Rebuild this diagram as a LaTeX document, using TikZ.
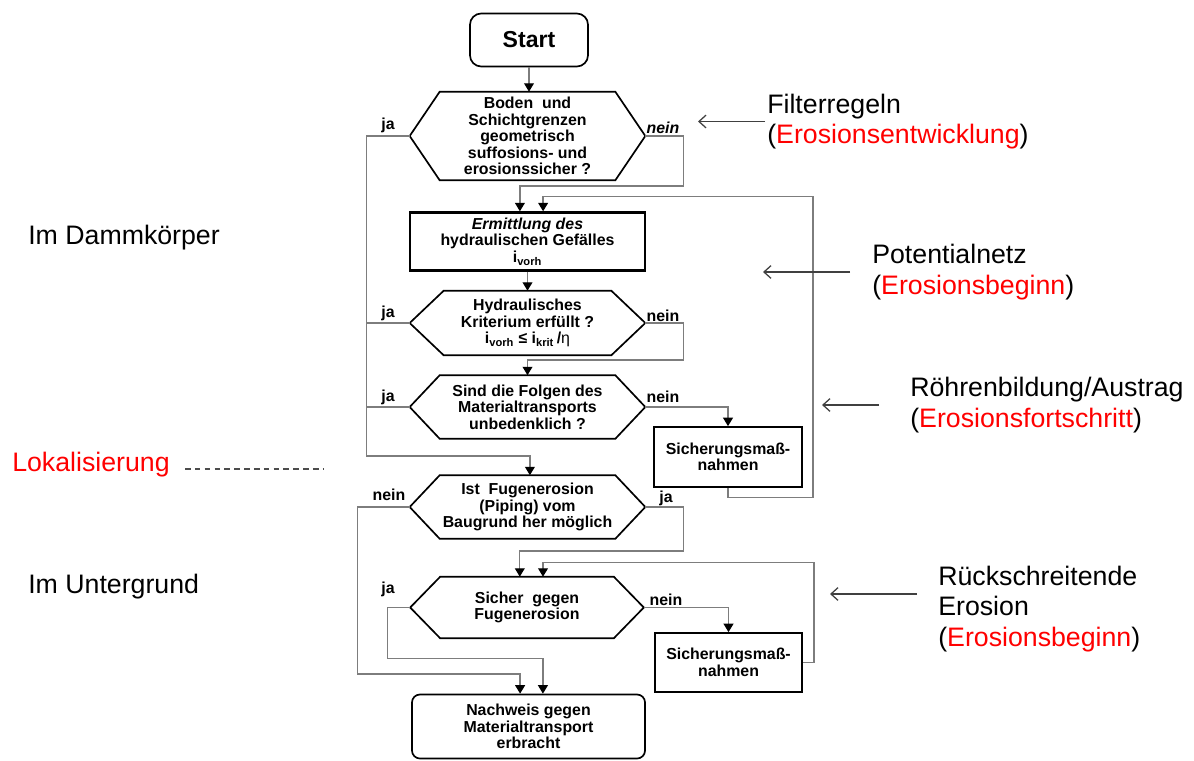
\documentclass[tikz,border=0pt]{standalone}
\usepackage{fontspec}
\setmainfont{Liberation Sans}
\usetikzlibrary{positioning,calc,arrows.meta}
\definecolor{linegray}{RGB}{125,125,125}
\definecolor{ered}{RGB}{255,0,0}
\newcommand*{\fs}{\bfseries\fontsize{11.3}{11.7}\selectfont}
\newcommand*{\er}[1]{(\textcolor{ered}{#1})}
% hexagon round a named node: \hexa{node}{depth}
\newcommand*{\hexa}[2]{\draw[line width=1.2pt] (#1.west) -- ([xshift=#2]#1.north west)
  -- ([xshift=-#2]#1.north east) -- (#1.east) -- ([xshift=-#2]#1.south east)
  -- ([xshift=#2]#1.south west) -- cycle;}
\tikzset{
  >={Triangle[width=7pt,length=6pt,color=black]},
  flow/.style={draw=linegray,line width=0.9pt,->},
  plain/.style={draw=linegray,line width=0.9pt},
  box/.style={draw,line width=1.2pt,align=center,inner sep=0pt,font=\fs},
  dec/.style={align=center,inner sep=0pt,minimum width=5.875cm,font=\fs},
  lbl/.style={font=\fs,inner sep=0pt},
  note/.style={align=left,anchor=west,inner sep=0pt,font=\fontsize{19}{21.6}\selectfont},
  hint/.style={draw=black!75,line width=0.9pt,-{Straight Barb[length=5pt,width=9pt]}}
}

\begin{document}
\begin{tikzpicture}[x=0.025cm,y=-0.025cm]
\useasboundingbox (0,0) rectangle (1194,761);
\node[box,rounded corners=0.28cm,minimum width=2.95cm,minimum height=1.325cm,
  font=\bfseries\fontsize{16.4}{18}\selectfont] (start) at (529,40) {Start};
\node[dec,minimum height=2.2cm] (h1) at (527.5,136)
  {Boden\ \ und\\Schichtgrenzen\\geometrisch\\suffosions- und\\erosionssicher ?};
\node[box,line width=1.7pt,minimum width=5.875cm,minimum height=1.45cm] (b2) at (527.5,241.5)
  {\textit{Ermittlung des}\\hydraulischen Gefälles\\i\textsubscript{vorh}};
\node[dec,minimum height=1.6cm] (h2) at (527.5,323)
  {Hydraulisches\\Kriterium erfüllt ?\\i\textsubscript{vorh} ≤ i\textsubscript{krit}\,/{\mdseries η}};
\node[dec,minimum height=1.575cm] (h3) at (527.5,407)
  {Sind die Folgen des\\Materialtransports\\unbedenklich ?};
\node[box,minimum width=3.7cm,minimum height=1.5cm] (s1) at (728,457) {Sicherungsmaß-\\nahmen};
\node[dec,minimum height=1.575cm] (h4) at (527.5,507)
  {Ist\ \ Fugenerosion\\(Piping) vom\\Baugrund her möglich};
\node[dec,minimum width=5.825cm,minimum height=1.525cm] (h5) at (527,607.5)
  {Sicher\ \ gegen\\Fugenerosion};
\node[box,minimum width=3.675cm,minimum height=1.475cm] (s2) at (728.5,662.5) {Sicherungsmaß-\\nahmen};
\node[box,rounded corners=0.2cm,minimum width=5.825cm,minimum height=1.6cm] (nachweis) at (528.5,726.5)
  {Nachweis gegen\\Materialtransport\\erbracht};
\hexa{h1}{0.75cm}
\hexa{h2}{0.85cm}
\hexa{h3}{0.75cm}
\hexa{h4}{0.75cm}
\hexa{h5}{0.75cm}

\node[lbl] (ja1) at (388,125) {ja};
\node[lbl,font=\fs\itshape] (nein1) at (663,128) {nein};
\node[lbl] (ja2) at (388,313) {ja};
\node[lbl] (nein2) at (663,316) {nein};
\node[lbl] (ja3) at (388,397) {ja};
\node[lbl] (nein3) at (663,397) {nein};
\node[lbl] (nein4) at (389,495) {nein};
\node[lbl] (ja4) at (666,498) {ja};
\node[lbl] (ja5) at (388,589) {ja};
\node[lbl] (nein5) at (666,600) {nein};

\draw[flow] (start.south) -- (start.south |- h1.north);
\draw[flow] (h1.east) -- ++(38,0) -- ++(0,50) -| ([xshift=-0.19cm]b2.north);
\draw[flow] (s1.south) -- ++(0,10) -- ++(85,0) -- ++(0,-301) -| ([xshift=0.39cm]b2.north);
\draw[flow] (b2.south) -- (h2.north);
\draw[flow] (h2.east) -- ++(38,0) -- ++(0,37) -| (h3.north);
\draw[flow] (h3.east) -| (s1.north);
\draw[flow] (h1.west) -- ++(-43,0) -- ++(0,320) -| ([xshift=0.06cm]h4.north);
\draw[plain] (h2.west) -- ++(-43,0);
\draw[plain] (h3.west) -- ++(-43,0);
\draw[flow] (h4.west) -- ++(-52,0) -- ++(0,167) -| ([xshift=-0.21cm]nachweis.north);
\draw[flow] (h4.east) -- ++(38,0) -- ++(0,44) -| ([xshift=-0.18cm]h5.north);
\draw[flow] (h5.east) -| (s2.north);
\draw[flow] (s2.east) -- ++(11,0) -- ++(0,-100) -| ([xshift=0.4cm]h5.north);
\draw[flow] (h5.west) -- ++(-23,0) -- ++(0,51) -| ([xshift=0.36cm]nachweis.north);

\node[note] (filter) at (767,121.5) {Filterregeln\\\er{Erosionsentwicklung}};
\node[note] (pot) at (872,272) {Potentialnetz\\\er{Erosionsbeginn}};
\node[note] (roehre) at (910,405) {Röhrenbildung/Austrag\\\er{Erosionsfortschritt}};
\node[note] (rueck) at (938,609) {Rückschreitende\\Erosion\\\er{Erosionsbeginn}};
\draw[hint] ([xshift=-0.05cm]filter.west) -- ++(-67,0);
\draw[hint] ([xshift=-0.55cm]pot.west) -- ++(-87,0);
\draw[hint] ([xshift=-0.775cm]roehre.west) -- ++(-57,0);
\draw[hint] ([shift={(-21,-15)}]rueck.west) -- ++(-87,0);

\node[note] (damm) at (28,238) {Im Dammkörper};
\node[note,text=ered] (lokal) at (12,465) {Lokalisierung};
\draw[black!70,line width=0.8pt,dash pattern=on 4pt off 3pt] ([shift={(15,4)}]lokal.east) -- ++(138,0);
\node[note] (grund) at (28,587) {Im Untergrund};
\end{tikzpicture}
\end{document}
